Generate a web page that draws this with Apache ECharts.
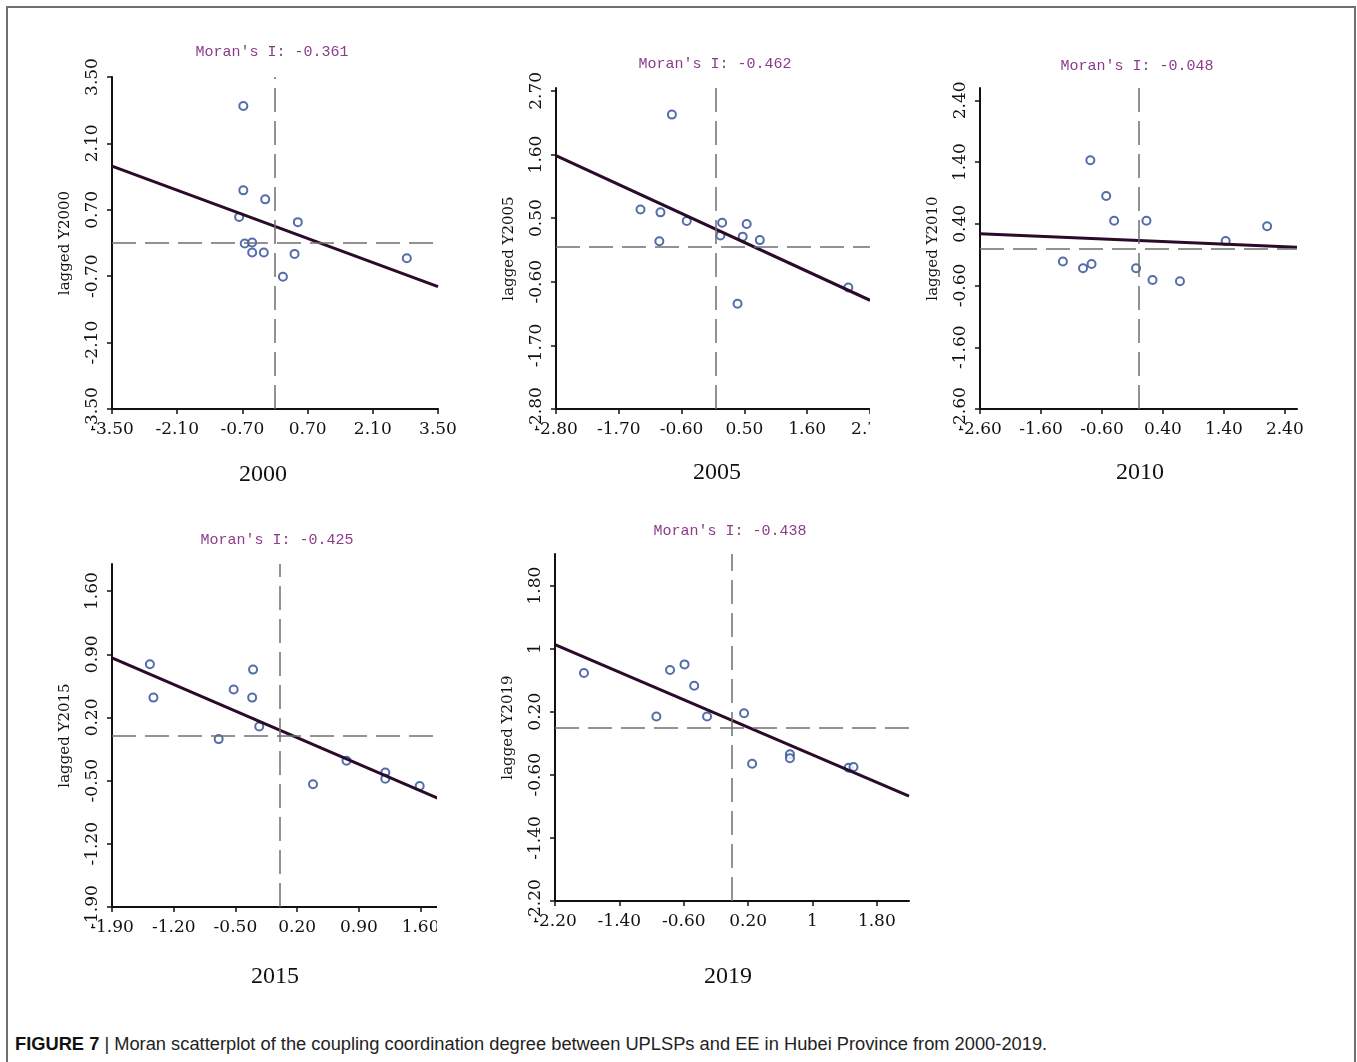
<!DOCTYPE html>
<html>
<head>
<meta charset="utf-8">
<script src="https://cdn.jsdelivr.net/npm/echarts@6/dist/echarts.min.js"></script>
<style>
html,body{margin:0;padding:0;background:#fff;}
#page{position:relative;width:1357px;height:1062px;overflow:hidden;background:#fff;}
#frame{position:absolute;left:6px;top:6px;width:1346px;height:1070px;border:2px solid #707070;border-bottom:none;}
.panel{position:absolute;overflow:hidden;}
#caption{position:absolute;left:15px;top:1033px;font-family:"Liberation Sans",Arial,sans-serif;font-size:18.3px;color:#222;white-space:nowrap;}
#caption b{font-weight:bold;color:#111;}
</style>
</head>
<body>
<div id="page">
  <div id="frame"></div>
  <div id="p2000" class="panel"></div>
  <div id="p2005" class="panel"></div>
  <div id="p2010" class="panel"></div>
  <div id="p2015" class="panel"></div>
  <div id="p2019" class="panel"></div>
  <div id="caption"><b>FIGURE 7</b> | Moran scatterplot of the coupling coordination degree between UPLSPs and EE in Hubei Province from 2000-2019.</div>
</div>
<script>
// ---------------- DATA ----------------
const years = ['2000', '2005', '2010', '2015', '2019'];
const moranI = ['-0.361', '-0.462', '-0.048', '-0.425', '-0.438'];
const yAxisNames = ['lagged Y2000', 'lagged Y2005', 'lagged Y2010', 'lagged Y2015', 'lagged Y2019'];

// standardized value (x) and spatially lagged value (y) per unit
const x2000 = [-0.68, -0.68, -0.21, -0.77, 0.49, -0.65, -0.49, -0.49, -0.24, 0.42, 0.17, 2.83];
const y2000 = [2.89, 1.11, 0.92, 0.55, 0.44, -0.01, 0.01, -0.20, -0.20, -0.23, -0.71, -0.32];
const x2005 = [-0.77, -1.32, -0.97, -0.51, -0.99, 0.11, 0.08, 0.54, 0.47, 0.77, 0.38, 2.32];
const y2005 = [2.29, 0.65, 0.60, 0.45, 0.10, 0.42, 0.20, 0.40, 0.18, 0.12, -0.98, -0.70];
const x2010 = [-0.79, -0.53, -0.40, 0.13, 2.11, 1.43, -1.24, -0.91, -0.77, -0.04, 0.23, 0.68];
const y2010 = [1.43, 0.85, 0.45, 0.45, 0.36, 0.12, -0.21, -0.32, -0.25, -0.32, -0.51, -0.53];
const x2015 = [-1.47, -1.43, -0.52, -0.30, -0.31, -0.23, -0.69, 0.38, 0.76, 1.20, 1.20, 1.59];
const y2015 = [0.79, 0.42, 0.51, 0.73, 0.42, 0.10, -0.04, -0.54, -0.28, -0.41, -0.48, -0.56];
const x2019 = [-1.84, -0.94, -0.77, -0.59, -0.47, -0.31, 0.15, 0.25, 0.72, 0.72, 1.45, 1.51];
const y2019 = [0.69, 0.14, 0.73, 0.80, 0.53, 0.14, 0.18, -0.46, -0.34, -0.39, -0.51, -0.50];

// regression line end points [x, y]
const fit2000 = [[-3.5, 1.62], [3.5, -0.92]];
const fit2005 = [[-2.8, 1.58], [2.7, -0.92]];
const fit2010 = [[-2.6, 0.24], [2.6, 0.02]];
const fit2015 = [[-1.9, 0.86], [1.9, -0.74]];
const fit2019 = [[-2.2, 1.05], [2.2, -0.87]];

// axis extents
const xRange2000 = [-3.5, 3.5], yRange2000 = [-3.5, 3.5];
const xRange2005 = [-2.8, 2.7], yRange2005 = [-2.8, 2.75];
const xRange2010 = [-2.6, 2.6], yRange2010 = [-2.6, 2.6];
const xRange2015 = [-1.9, 1.9], yRange2015 = [-1.9, 1.9];
const xRange2019 = [-2.2, 2.2], yRange2019 = [-2.2, 2.2];

// tick values and tick labels
const ticks2000 = [-3.5, -2.1, -0.7, 0.7, 2.1, 3.5];
const tickLabels2000 = ['-3.50', '-2.10', '-0.70', '0.70', '2.10', '3.50'];
const ticks2005 = [-2.8, -1.7, -0.6, 0.5, 1.6, 2.7];
const tickLabels2005 = ['-2.80', '-1.70', '-0.60', '0.50', '1.60', '2.70'];
const ticks2010 = [-2.6, -1.6, -0.6, 0.4, 1.4, 2.4];
const tickLabels2010 = ['-2.60', '-1.60', '-0.60', '0.40', '1.40', '2.40'];
const ticks2015 = [-1.9, -1.2, -0.5, 0.2, 0.9, 1.6];
const tickLabels2015 = ['-1.90', '-1.20', '-0.50', '0.20', '0.90', '1.60'];
const ticks2019 = [-2.2, -1.4, -0.6, 0.2, 1, 1.8];
const tickLabels2019 = ['-2.20', '-1.40', '-0.60', '0.20', '1', '1.80'];

// ---------------- LAYOUT / STYLE ----------------
const layout = {
  '2000': {div: [14, 30, 460, 470],  grid: [98, 47, 326, 332], title: [258, 22], year: [249, 445]},
  '2005': {div: [470, 30, 400, 470], grid: [86, 58, 314, 321], title: [245, 34], year: [247, 443]},
  '2010': {div: [900, 30, 445, 470], grid: [80, 58, 317, 321], title: [237, 36], year: [240, 443]},
  '2015': {div: [14, 510, 423, 490], grid: [98, 54, 335, 343], title: [263, 30], year: [261, 467]},
  '2019': {div: [460, 500, 470, 500], grid: [95, 54, 354, 347], title: [270, 31], year: [268, 477]}
};

const panelData = {
  '2000': {x: x2000, y: y2000, fit: fit2000, xr: xRange2000, yr: yRange2000, t: ticks2000, tl: tickLabels2000},
  '2005': {x: x2005, y: y2005, fit: fit2005, xr: xRange2005, yr: yRange2005, t: ticks2005, tl: tickLabels2005},
  '2010': {x: x2010, y: y2010, fit: fit2010, xr: xRange2010, yr: yRange2010, t: ticks2010, tl: tickLabels2010},
  '2015': {x: x2015, y: y2015, fit: fit2015, xr: xRange2015, yr: yRange2015, t: ticks2015, tl: tickLabels2015},
  '2019': {x: x2019, y: y2019, fit: fit2019, xr: xRange2019, yr: yRange2019, t: ticks2019, tl: tickLabels2019}
};

const AXIS_COLOR = '#111';
const LABEL_FONT = 'DejaVu Serif';

function makeFormatter(ticks, labels) {
  return function (v) {
    for (let i = 0; i < ticks.length; i++) {
      if (Math.abs(ticks[i] - v) < 1e-6) return labels[i];
    }
    return '';
  };
}

function axisCommon(ticks, labels) {
  return {
    type: 'value',
    scale: true,
    axisLine: {show: true, onZero: false, lineStyle: {color: AXIS_COLOR, width: 2}},
    axisTick: {show: true, inside: false, length: 5, lineStyle: {color: AXIS_COLOR, width: 1.5}, customValues: ticks},
    axisLabel: {
      show: true, customValues: ticks, formatter: makeFormatter(ticks, labels),
      fontFamily: LABEL_FONT, fontSize: 17, color: '#111', hideOverlap: false,
      showMinLabel: true, showMaxLabel: true
    },
    splitLine: {show: false}
  };
}

years.forEach(function (yr, idx) {
  const L = layout[yr];
  const D = panelData[yr];
  const el = document.getElementById('p' + yr);
  el.style.left = L.div[0] + 'px';
  el.style.top = L.div[1] + 'px';
  el.style.width = L.div[2] + 'px';
  el.style.height = L.div[3] + 'px';
  const chart = echarts.init(el, null, {renderer: 'canvas'});

  const points = D.x.map(function (v, i) { return [v, D.y[i]]; });

  const xAxis = axisCommon(D.t, D.tl);
  xAxis.min = D.xr[0]; xAxis.max = D.xr[1];
  xAxis.axisLabel.margin = 12;

  const yAxis = axisCommon(D.t, D.tl);
  yAxis.min = D.yr[0]; yAxis.max = D.yr[1];
  yAxis.axisLabel.rotate = 90;
  yAxis.axisLabel.margin = 11;
  yAxis.name = yAxisNames[idx];
  yAxis.nameLocation = 'middle';
  yAxis.nameGap = 39;
  yAxis.nameTextStyle = {fontFamily: LABEL_FONT, fontSize: 15, color: '#111'};

  chart.setOption({
    animation: false,
    backgroundColor: 'transparent',
    grid: {
      left: L.grid[0], top: L.grid[1], width: L.grid[2], height: L.grid[3],
      containLabel: false, outerBoundsMode: 'none'
    },
    xAxis: xAxis,
    yAxis: yAxis,
    graphic: [
      {
        type: 'text', x: L.title[0], y: L.title[1],
        style: {
          text: "Moran's I: " + moranI[idx], fill: '#8a3c8a',
          font: '15px "Liberation Mono", monospace', textAlign: 'center', textVerticalAlign: 'middle'
        }
      },
      {
        type: 'text', x: L.year[0], y: L.year[1],
        style: {
          text: yr, fill: '#111',
          font: '24px "Liberation Serif", serif', textAlign: 'center', textVerticalAlign: 'middle'
        }
      }
    ],
    series: [
      {
        type: 'scatter',
        data: points,
        symbol: 'emptyCircle',
        symbolSize: 8,
        itemStyle: {color: '#284896', borderColor: '#284896', borderWidth: 1.9},
        z: 2,
        markLine: {
          silent: true,
          symbol: ['none', 'none'],
          label: {show: false},
          lineStyle: {color: '#6f6f6f', width: 1.5, type: [24, 9]},
          data: [{xAxis: 0}, {yAxis: 0}]
        }
      },
      {
        type: 'line',
        data: D.fit,
        showSymbol: false,
        symbol: 'none',
        lineStyle: {color: '#2a0b2a', width: 3},
        z: 3
      }
    ]
  });
});
</script>
</body>
</html>
